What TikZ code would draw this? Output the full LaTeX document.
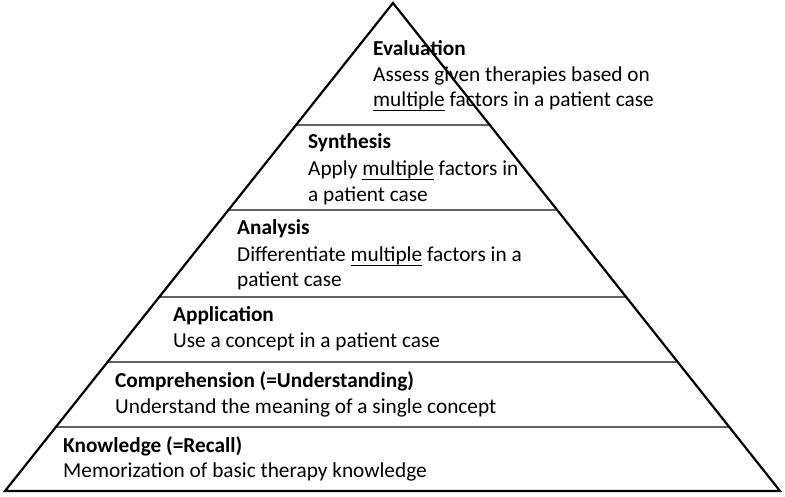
\documentclass[tikz,border=0pt]{standalone}
\usepackage{fontspec}
\setmainfont{Carlito}
\usetikzlibrary{calc}
\newcommand{\ulword}[1]{\setbox0=\hbox{#1}\rlap{\vrule height -2.6pt depth 4.2pt width \wd0}\box0\relax}
\begin{document}
\begin{tikzpicture}[x=1pt,y=-1pt,
  txt/.style={inner sep=0pt, anchor=base west, font=\fontsize{21.3}{26}\selectfont},
  ttl/.style={txt, font=\fontsize{21.3}{26}\selectfont\bfseries},
  sepline/.style={draw=black!62, line width=2pt},
  edgeline/.style={draw=black, line width=2.2pt, line join=miter}]
\useasboundingbox (0,0) rectangle (785,497);
\coordinate (apex) at (393,3);
\coordinate (bl) at (5,491);
\coordinate (br) at (780,491);
% separators
\foreach \t/\n in {0.25/s1,0.4242/s2,0.6025/s3,0.7357/s4,0.8689/s5}{
  \coordinate (\n l) at ($(apex)!\t!(bl)$);
  \coordinate (\n r) at ($(apex)!\t!(br)$);
  \draw[sepline] (\n l) -- (\n r);
}
% triangle
\draw[edgeline] (apex) -- (bl) -- (br) -- cycle;
% texts
\node[ttl] (ev1) at (373,56) {Evaluation};
\node[txt] (ev2) at (373,82) {Assess given therapies based on};
\node[txt] (ev3) at (373,107) {\ulword{multiple} factors in a patient case};
\node[ttl] (sy1) at (308,149) {Synthesis};
\node[txt] (sy2) at (308,176) {Apply \ulword{multiple} factors in};
\node[txt] (sy3) at (308,202) {a patient case};
\node[ttl] (an1) at (237,235) {Analysis};
\node[txt] (an2) at (237,262) {Differentiate \ulword{multiple} factors in a};
\node[txt] (an3) at (237,287) {patient case};
\node[ttl] (ap1) at (173,322) {Application};
\node[txt] (ap2) at (173,348) {Use a concept in a patient case};
\node[ttl] (co1) at (115,387) {Comprehension (=Understanding)};
\node[txt] (co2) at (115,413) {Understand the meaning of a single concept};
\node[ttl] (kn1) at (63,452) {Knowledge (=Recall)};
\node[txt] (kn2) at (63,477) {Memorization of basic therapy knowledge};
\end{tikzpicture}
\end{document}
